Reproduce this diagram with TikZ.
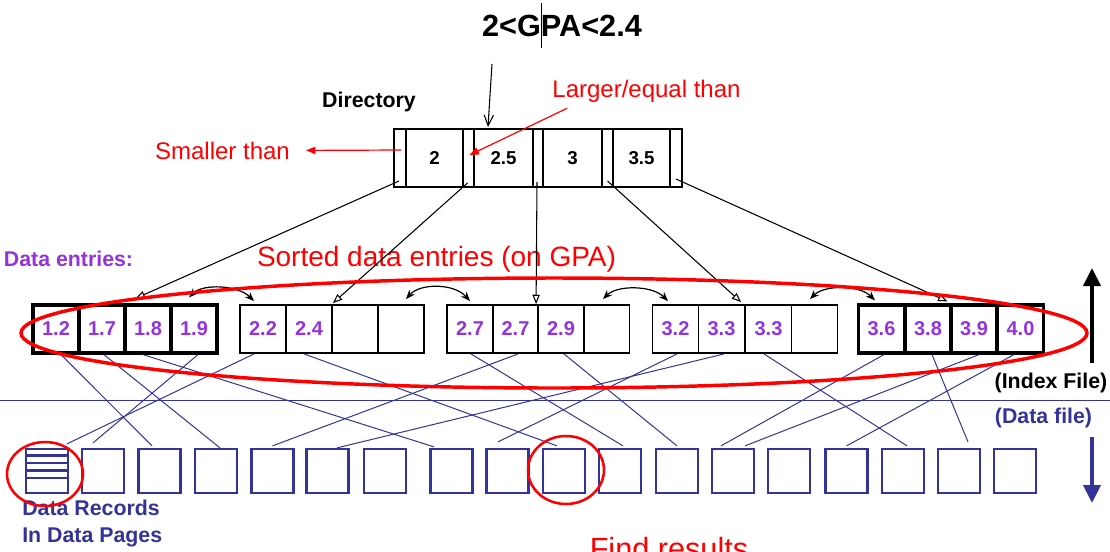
\documentclass[tikz,border=0pt]{standalone}
\usepackage{fontspec}
\setmainfont{Liberation Sans}
\usetikzlibrary{arrows.meta,calc}
\definecolor{dblue}{RGB}{51,51,153}
\definecolor{vio}{RGB}{150,50,220}
\begin{document}
\begin{tikzpicture}[x=0.75pt,y=-0.75pt,
  lcell/.style={draw,line width=1.4pt,minimum width=34.5pt,minimum height=36pt,inner sep=0pt,text=vio,font=\bfseries\fontsize{15}{17}\selectfont},
  lcellb/.style={lcell,line width=2.4pt},
  dslot/.style={draw,line width=1.5pt,minimum height=43.5pt,inner sep=0pt,font=\bfseries\fontsize{14}{16}\selectfont},
  dpage/.style={draw=dblue,line width=1.7pt,minimum width=31.5pt,minimum height=33pt,inner sep=0pt},
  ptr/.style={line width=0.8pt,-{Triangle[open,length=7pt,width=5.5pt]}},
  sib/.style={line width=0.9pt,{Stealth[length=7pt,width=5.5pt]}-{Stealth[length=7pt,width=5.5pt]}},
  rec/.style={dblue,line width=0.75pt},
  redarr/.style={red,line width=0.9pt,-{Triangle[length=7pt,width=5.5pt]}},
  lbl/.style={inner sep=0pt,anchor=base},
]
\useasboundingbox (0,0) rectangle (1110,551);
\clip (0,0) rectangle (1110,551);

% title
\node[lbl,font=\bfseries\fontsize{23}{26}\selectfont] (title) at (562,36) {2<GPA<2.4};
\draw[line width=0.6pt] (541,3) -- (541,48);

% directory
\node[lbl,font=\bfseries\fontsize{16}{19}\selectfont] (dirlbl) at (369,107) {Directory};
\node[dslot,minimum width=9pt]     (p0) at (400,158) {};
\node[dslot,minimum width=42.75pt] (k1) at (434.5,158) {2};
\node[dslot,minimum width=8.25pt]  (p1) at (468.5,158) {};
\node[dslot,minimum width=44.25pt] (k2) at (503.5,158) {2.5};
\node[dslot,minimum width=7.5pt]   (p2) at (538,158) {};
\node[dslot,minimum width=44.25pt] (k3) at (572.5,158) {3};
\node[dslot,minimum width=8.25pt]  (p3) at (607.5,158) {};
\node[dslot,minimum width=42.75pt] (k4) at (641.5,158) {3.5};
\node[dslot,minimum width=9pt]     (p4) at (676,158) {};

\coordinate (tstart) at (492,64);
\draw[line width=0.8pt,-{Straight Barb[length=8pt,width=7pt]}] (tstart) -- ($(k2.north west)+(15,-1)$);

\node[lbl,red,font=\fontsize{18}{21}\selectfont] (larger) at (646.5,97) {Larger/equal than};
\node[lbl,red,font=\fontsize{18}{21}\selectfont] (smaller) at (222.5,159) {Smaller than};
\draw[redarr] ($(larger.south west)+(15,6)$) -- ($(p1.center)+(1,-3)$);
\draw[redarr] ($(p0.center)+(1,-8)$) -- ($(smaller.east)+(16,0)$);

% labels
\node[lbl,vio,font=\bfseries\fontsize{16}{19}\selectfont] (delbl) at (68.5,266) {Data entries:};
\node[lbl,red,font=\fontsize{21}{24}\selectfont] (sorted) at (436.5,266) {Sorted data entries (on GPA)};

% leaves
\node[lcellb] (a1) at (56,329) {1.2};
\node[lcellb] (a2) at (102,329) {1.7};
\node[lcellb] (a3) at (148,329) {1.8};
\node[lcellb] (a4) at (194,329) {1.9};
\node[lcell] (b1) at (263,329) {2.2};
\node[lcell] (b2) at (309,329) {2.4};
\node[lcell] (b3) at (355,329) {};
\node[lcell] (b4) at (401,329) {};
\node[lcell] (c1) at (470,329) {2.7};
\node[lcell] (c2) at (515.5,329) {2.7};
\node[lcell] (c3) at (561,329) {2.9};
\node[lcell] (c4) at (606.5,329) {};
\node[lcell] (d1) at (675.5,329) {3.2};
\node[lcell] (d2) at (721.5,329) {3.3};
\node[lcell] (d3) at (768.5,329) {3.3};
\node[lcell] (d4) at (814.5,329) {};
\node[lcellb] (e1) at (881.5,329) {3.6};
\node[lcellb] (e2) at (928,329) {3.8};
\node[lcellb] (e3) at (974,329) {3.9};
\node[lcellb] (e4) at (1020.5,329) {4.0};

% directory pointers
\draw[ptr] ($(p0.south)+(-1,-7)$) -- ($(a2.north east)+(9,-5)$);
\draw[ptr] ($(p1.south)+(-1,-5)$) -- ($(b2.north east)+(0,-1)$);
\draw[ptr] ($(p2.south)+(-1,-6)$) -- ($(c3.north west)+(-1,0)$);
\draw[ptr] ($(p3.south)+(0,-7)$) -- ($(d3.north west)+(-3.5,-2)$);
\draw[ptr] ($(p4.south)+(0,-9)$) -- ($(e3.north west)+(-2,-2)$);

% sibling pointers
\draw[sib] ($(a4.north)+(-5,-6)$) .. controls +(14,-14) and +(-16,-16) .. ($(b1.north)+(-9,-3)$);
\draw[sib] ($(b4.north)+(5,-5)$) .. controls +(14,-16) and +(-16,-18) .. ($(c1.north)+(0,-3)$);
\draw[sib] ($(c4.north)+(-3.5,-5)$) .. controls +(14,-14) and +(-16,-16) .. ($(d1.north)+(-7.5,-3)$);
\draw[sib] ($(d4.north)+(-4.5,-5)$) .. controls +(14,-14) and +(-16,-16) .. ($(e1.north)+(-6.5,-3)$);

% separator and side labels
\draw[dblue,line width=0.75pt] (0,400) -- (1110,400);
\node[lbl,font=\bfseries\fontsize{16}{19}\selectfont] (idx) at (1051,388) {(Index File)};
\node[lbl,dblue,font=\bfseries\fontsize{16}{19}\selectfont] (dat) at (1043.5,423) {(Data file)};
\draw[line width=3pt,-{Triangle[length=13.5pt,width=12.75pt]}] (1092,363) -- (1092,268);
\draw[dblue,line width=3pt,-{Triangle[length=13.5pt,width=12.75pt]}] (1092,437) -- (1092,503);

% data pages
\foreach \i/\x in {1/47,2/103,3/159.5,4/216,5/272.5,6/327.5,7/385,8/451.5,9/507.5,10/564,11/620,12/677,13/733,14/789,15/846.5,16/903,17/959,18/1015}
  \node[dpage] (g\i) at (\x,471) {};
\foreach \o in {7.7,15.3,22.7,30.3}
  \draw[dblue,line width=1.7pt] ($(g1.north west)+(0,\o)$) -- ($(g1.north east)+(0,\o)$);

% record pointers
\draw[rec] ($(a1.south)+(5,0)$) -- ($(g3.north)+(-7.5,-2)$);
\draw[rec] ($(a2.south)+(2,0)$) -- ($(g4.north)+(4,0)$);
\draw[rec] ($(a3.south)+(-5,0)$) -- ($(g8.north)+(-17.5,-1)$);
\draw[rec] ($(a4.south)+(4,0)$) -- ($(g2.north)+(-10,-5)$);
\draw[rec] ($(b1.south)+(-9,0)$) -- ($(g1.north)+(20,-4)$);
\draw[rec] ($(b2.south)+(-5,0)$) -- ($(g10.north)+(-7,-2)$);
\draw[rec] ($(c1.south)+(1,0)$) -- ($(g11.north)+(3,-2)$);
\draw[rec] ($(c2.south)+(2.5,0)$) -- ($(g5.north)+(0,-2)$);
\draw[rec] ($(c3.south)+(3,0)$) -- ($(g12.north)+(0,-2)$);
\draw[rec] ($(d1.south)+(1.5,0)$) -- ($(g9.north)+(-9.5,-6)$);
\draw[rec] ($(d2.south)+(2.5,0)$) -- ($(g6.north)+(9.5,0)$);
\draw[rec] ($(d3.south)+(-4.5,0)$) -- ($(g16.north)+(4,-2)$);
\draw[rec] ($(e1.south)+(2.5,0)$) -- ($(g13.north)+(-12,-2)$);
\draw[rec] ($(e2.south)+(4,0)$) -- ($(g17.north)+(9,-6)$);
\draw[rec] ($(e3.south)+(5,0)$) -- ($(g13.north)+(12,-2)$);
\draw[rec] ($(e4.south)+(-6.5,0)$) -- ($(g15.north)+(0,-2)$);

\node[lbl,anchor=base west,dblue,font=\bfseries\fontsize{16}{19}\selectfont] (dr1) at (22,515) {Data Records};
\node[lbl,anchor=base west,dblue,font=\bfseries\fontsize{16}{19}\selectfont] (dr2) at (22,542) {In Data Pages};
\node[lbl,red,font=\fontsize{23}{26}\selectfont] (find) at (669,559) {Find results};

% red highlights
\draw[red,line width=2.6pt] (554,333) ellipse [x radius=533, y radius=55];
\draw[red,line width=1.9pt] (45,474) ellipse [x radius=38, y radius=32];
\draw[red,line width=1.9pt] (566,470) ellipse [x radius=38, y radius=34];
\end{tikzpicture}
\end{document}
